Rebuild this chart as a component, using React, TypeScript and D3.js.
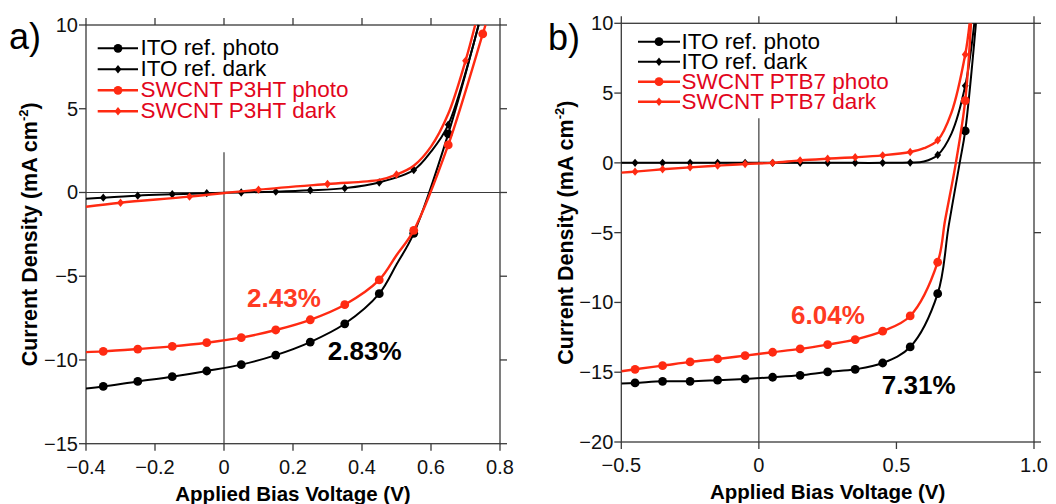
import React from 'react';
import * as d3 from 'd3';

type P = [number, number, number]; // [voltage, current density, marker?]

// ---------- Panel a data (P3HT) ----------
const itoPhotoA: P[] = [
  [-0.4, -11.7, 0], [-0.35, -11.58, 1], [-0.25, -11.28, 1], [-0.15, -11.0, 1], [-0.05, -10.66, 1],
  [0.05, -10.28, 1], [0.15, -9.71, 1], [0.25, -8.93, 1], [0.35, -7.84, 1], [0.45, -6.04, 1],
  [0.5, -4.3, 0], [0.55, -2.44, 1], [0.65, 3.5, 1], [0.738, 10, 0],
];
const itoDarkA: P[] = [
  [-0.4, -0.38, 0], [-0.35, -0.31, 1], [-0.25, -0.19, 1], [-0.15, -0.11, 1], [-0.05, -0.04, 1],
  [0.05, 0.0, 1], [0.15, 0.05, 1], [0.25, 0.13, 1], [0.35, 0.26, 1], [0.45, 0.6, 1],
  [0.55, 1.34, 1], [0.6, 2.44, 0], [0.65, 4.04, 1], [0.738, 10, 0],
];
const swPhotoA: P[] = [
  [-0.4, -9.53, 0], [-0.35, -9.49, 1], [-0.25, -9.35, 1], [-0.15, -9.19, 1], [-0.05, -8.97, 1],
  [0.05, -8.67, 1], [0.15, -8.21, 1], [0.25, -7.6, 1], [0.35, -6.7, 1], [0.45, -5.22, 1],
  [0.5, -3.75, 0], [0.55, -2.26, 1], [0.65, 2.84, 1], [0.75, 9.47, 1], [0.758, 10, 0],
];
const swDarkA: P[] = [
  [-0.4, -0.85, 0], [-0.3, -0.61, 1], [-0.1, -0.25, 1], [0.1, 0.17, 1], [0.3, 0.51, 1],
  [0.45, 0.75, 0], [0.5, 1.07, 1], [0.55, 1.6, 0], [0.6, 2.74, 0], [0.65, 4.7, 0], [0.7, 7.86, 1], [0.728, 10, 0],
];

// ---------- Panel b data (PTB7) ----------
const itoPhotoB: P[] = [
  [-0.5, -15.8, 0], [-0.45, -15.77, 1], [-0.35, -15.65, 1], [-0.25, -15.65, 1], [-0.15, -15.57, 1],
  [-0.05, -15.48, 1], [0.05, -15.36, 1], [0.15, -15.22, 1], [0.25, -14.98, 1], [0.35, -14.79, 1],
  [0.45, -14.34, 1], [0.55, -13.19, 1], [0.65, -9.37, 1], [0.69, -4.5, 0], [0.73, 0, 0],
  [0.75, 2.29, 1], [0.789, 10, 0],
];
const itoDarkB: P[] = [
  [-0.5, 0, 0], [-0.45, 0, 1], [-0.35, 0, 1], [-0.25, 0, 1], [-0.15, 0, 1], [-0.05, 0, 1],
  [0.05, 0, 1], [0.15, 0, 1], [0.25, 0, 1], [0.35, 0, 1], [0.45, 0, 1], [0.55, 0.02, 1],
  [0.6, 0.1, 0], [0.65, 0.57, 1], [0.7, 2.1, 0], [0.75, 5.52, 1], [0.783, 10, 0],
];
const swPhotoB: P[] = [
  [-0.5, -14.93, 0], [-0.45, -14.79, 1], [-0.35, -14.53, 1], [-0.25, -14.26, 1], [-0.15, -14.05, 1],
  [-0.05, -13.81, 1], [0.05, -13.57, 1], [0.15, -13.33, 1], [0.25, -13.02, 1], [0.35, -12.66, 1],
  [0.45, -12.06, 1], [0.55, -10.97, 1], [0.65, -7.12, 1], [0.677, -4.1, 0], [0.716, 0, 0],
  [0.75, 4.46, 1], [0.771, 10, 0],
];
const swDarkB: P[] = [
  [-0.5, -0.7, 0], [-0.45, -0.63, 1], [-0.35, -0.46, 1], [-0.25, -0.32, 1], [-0.15, -0.2, 1],
  [-0.05, -0.08, 1], [0.05, 0.0, 1], [0.15, 0.18, 1], [0.25, 0.3, 1], [0.35, 0.4, 1],
  [0.45, 0.54, 1], [0.55, 0.78, 1], [0.6, 1.05, 0], [0.65, 1.62, 1], [0.7, 3.6, 0], [0.75, 7.76, 1], [0.766, 10, 0],
];

// ---------- axes ----------
const xDomainA = [-0.4, 0.8];
const yDomainA = [-15, 10];
const xTicksA = [-0.4, -0.2, 0, 0.2, 0.4, 0.6, 0.8];
const xTickLabelsA = ['\u22120.4', '\u22120.2', '0', '0.2', '0.4', '0.6', '0.8'];
const yTicksA = [-15, -10, -5, 0, 5, 10];
const yTickLabelsA = ['\u221215', '\u221210', '\u22125', '0', '5', '10'];

const xDomainB = [-0.5, 1.0];
const yDomainB = [-20, 10];
const xTicksB = [-0.5, 0, 0.5, 1.0];
const xTickLabelsB = ['\u22120.5', '0', '0.5', '1.0'];
const yTicksB = [-20, -15, -10, -5, 0, 5, 10];
const yTickLabelsB = ['\u221220', '\u221215', '\u221210', '\u22125', '0', '5', '10'];

const legendA = ['ITO ref. photo', 'ITO ref. dark', 'SWCNT P3HT photo', 'SWCNT P3HT dark'];
const legendB = ['ITO ref. photo', 'ITO ref. dark', 'SWCNT PTB7 photo', 'SWCNT PTB7 dark'];

// efficiency annotations: [text, V, J]
const effA: [string, number, number][] = [['2.43%', 0.067, -6.84], ['2.83%', 0.301, -10.0]];
const effB: [string, number, number][] = [['6.04%', 0.117, -11.54], ['7.31%', 0.447, -16.55]];

const zeroLineTopA = 2.4;
const zeroLineTopB = 3.2;

const BLACK = '#000000';
const RED = '#ff2a12';
const RED_TEXT = '#e2061c';
const RED_EFF = '#ff3a22';
const AXIS = '#3a3a3a';
const FONT = '"Liberation Sans", Arial, Helvetica, sans-serif';

type Box = { l: number; r: number; t: number; b: number };

const diamond = 'M0,-4.2L3.4,0L0,4.2L-3.4,0Z';

function Panel(props: {
  id: string;
  box: Box;
  xDomain: number[];
  yDomain: number[];
  xTicks: number[];
  xTickLabels: string[];
  yTicks: number[];
  yTickLabels: string[];
  series: { data: P[]; color: string; kind: 'circle' | 'diamond' }[];
  legend: string[];
  leg: { x0: number; x1: number; xm: number; xt: number; y0: number; dy: number };
  zeroTop: number;
  eff: [string, number, number][];
  letter: string;
  letterPos: [number, number];
  yTitleX: number;
}) {
  const { box, id } = props;
  const x = d3.scaleLinear().domain(props.xDomain).range([box.l, box.r]);
  const y = d3.scaleLinear().domain(props.yDomain).range([box.b, box.t]);
  const line = d3
    .line<P>()
    .x((d) => x(d[0]))
    .y((d) => y(d[1]))
    .curve(d3.curveCatmullRom.alpha(0.5));
  const tk = 7;
  const cx = (box.l + box.r) / 2;
  const cy = (box.t + box.b) / 2;
  return (
    <g>
      <defs>
        <clipPath id={id}>
          <rect x={box.l} y={box.t - 1} width={box.r - box.l} height={box.b - box.t + 1} />
        </clipPath>
      </defs>
      {/* frame */}
      <rect x={box.l} y={box.t} width={box.r - box.l} height={box.b - box.t} fill="none" stroke={AXIS} strokeWidth={1.3} />
      {props.yTicks.map((v, i) => (
        <g key={'yt' + i}>
          <line x1={box.l - tk} x2={box.l} y1={y(v)} y2={y(v)} stroke={AXIS} strokeWidth={1.3} />
          <line x1={box.r} x2={box.r + tk} y1={y(v)} y2={y(v)} stroke={AXIS} strokeWidth={1.3} />
          <text x={box.l - tk - 1} y={y(v) + 7} textAnchor="end" fontSize={20} fontFamily={FONT} fill="#111">
            {props.yTickLabels[i]}
          </text>
        </g>
      ))}
      {props.xTicks.map((v, i) => (
        <g key={'xt' + i}>
          <line x1={x(v)} x2={x(v)} y1={box.b} y2={box.b + tk} stroke={AXIS} strokeWidth={1.3} />
          <line x1={x(v)} x2={x(v)} y1={box.t - tk} y2={box.t} stroke={AXIS} strokeWidth={1.3} />
          <text x={x(v)} y={box.b + 30} textAnchor="middle" fontSize={20} fontFamily={FONT} fill="#111">
            {props.xTickLabels[i]}
          </text>
        </g>
      ))}
      {/* zero lines */}
      <line x1={box.l} x2={box.r} y1={y(0)} y2={y(0)} stroke={AXIS} strokeWidth={1.2} />
      <line x1={x(0)} x2={x(0)} y1={y(props.zeroTop)} y2={box.b} stroke={AXIS} strokeWidth={1.2} />
      {/* series */}
      <g clipPath={`url(#${id})`}>
        {props.series.map((s, i) => (
          <g key={'s' + i}>
            <path d={line(s.data) || ''} fill="none" stroke={s.color} strokeWidth={s.color === BLACK ? 2 : 2.4} strokeLinejoin="round" />
            {s.data
              .filter((d) => d[2] === 1)
              .map((d, j) =>
                s.kind === 'circle' ? (
                  <circle key={j} cx={x(d[0])} cy={y(d[1])} r={4.4} fill={s.color} />
                ) : (
                  <path key={j} d={diamond} transform={`translate(${x(d[0])},${y(d[1])})`} fill={s.color} />
                )
              )}
          </g>
        ))}
      </g>
      {/* legend */}
      {props.legend.map((t, i) => {
        const s = props.series[i];
        const ly = props.leg.y0 + i * props.leg.dy;
        return (
          <g key={'l' + i}>
            <line x1={props.leg.x0} x2={props.leg.x1} y1={ly} y2={ly} stroke={s.color} strokeWidth={s.color === BLACK ? 2 : 2.4} />
            {s.kind === 'circle' ? (
              <circle cx={props.leg.xm} cy={ly} r={4.4} fill={s.color} />
            ) : (
              <path d={diamond} transform={`translate(${props.leg.xm},${ly})`} fill={s.color} />
            )}
            <text x={props.leg.xt} y={ly + 7} fontSize={22.5} fontFamily={FONT} fill={s.color === BLACK ? '#000' : RED_TEXT}>
              {t}
            </text>
          </g>
        );
      })}
      {/* efficiencies */}
      {props.eff.map((e, i) => (
        <text key={'e' + i} x={x(e[1])} y={y(e[2])} fontSize={26} fontWeight="bold" fontFamily={FONT} fill={i === 0 ? RED_EFF : '#000'}>
          {e[0]}
        </text>
      ))}
      {/* titles */}
      <text x={cx} y={box.b + 57} textAnchor="middle" fontSize={20.5} fontWeight="bold" fontFamily={FONT} fill="#000">
        Applied Bias Voltage (V)
      </text>
      <text transform={`translate(${props.yTitleX},${cy}) rotate(-90)`} textAnchor="middle" fontSize={21.5} fontWeight="bold" fontFamily={FONT} fill="#000">
        Current Density (mA cm<tspan fontSize={13} dy={-9}>-2</tspan>
        <tspan dy={9}>)</tspan>
      </text>
      <text x={props.letterPos[0]} y={props.letterPos[1]} fontSize={36} fontFamily={FONT} fill="#000">
        {props.letter}
      </text>
    </g>
  );
}

export default function App() {
  return (
    <svg width={1056} height={504} style={{ position: 'absolute', left: 0, top: 0, background: '#fff' }}>
      <rect width={1056} height={504} fill="#fff" />
      <Panel
        id="clipA"
        box={{ l: 86, r: 500, t: 25, b: 443.7 }}
        xDomain={xDomainA}
        yDomain={yDomainA}
        xTicks={xTicksA}
        xTickLabels={xTickLabelsA}
        yTicks={yTicksA}
        yTickLabels={yTickLabelsA}
        series={[
          { data: itoPhotoA, color: BLACK, kind: 'circle' },
          { data: itoDarkA, color: BLACK, kind: 'diamond' },
          { data: swPhotoA, color: RED, kind: 'circle' },
          { data: swDarkA, color: RED, kind: 'diamond' },
        ]}
        legend={legendA}
        leg={{ x0: 97.7, x1: 138, xm: 118, xt: 140.5, y0: 48.3, dy: 21 }}
        zeroTop={zeroLineTopA}
        eff={effA}
        letter="a)"
        letterPos={[9, 49]}
        yTitleX={37}
      />
      <Panel
        id="clipB"
        box={{ l: 621.3, r: 1034, t: 23.3, b: 442 }}
        xDomain={xDomainB}
        yDomain={yDomainB}
        xTicks={xTicksB}
        xTickLabels={xTickLabelsB}
        yTicks={yTicksB}
        yTickLabels={yTickLabelsB}
        series={[
          { data: itoPhotoB, color: BLACK, kind: 'circle' },
          { data: itoDarkB, color: BLACK, kind: 'diamond' },
          { data: swPhotoB, color: RED, kind: 'circle' },
          { data: swDarkB, color: RED, kind: 'diamond' },
        ]}
        legend={legendB}
        leg={{ x0: 638, x1: 680, xm: 659, xt: 681.5, y0: 41.7, dy: 20 }}
        zeroTop={zeroLineTopB}
        eff={effB}
        letter="b)"
        letterPos={[548, 50]}
        yTitleX={573}
      />
    </svg>
  );
}
